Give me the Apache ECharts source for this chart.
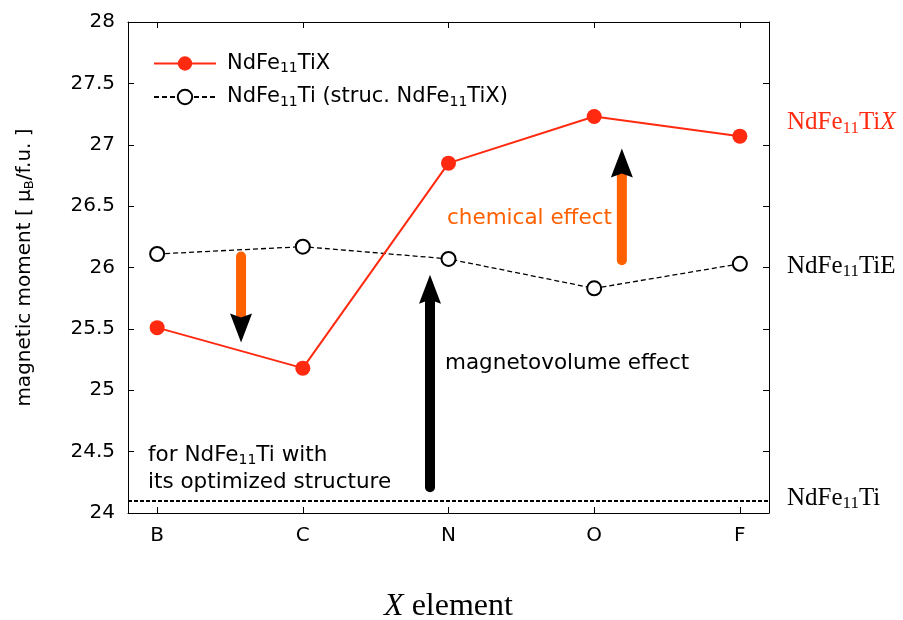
<!DOCTYPE html>
<html><head><meta charset="utf-8">
<script src="https://cdn.jsdelivr.net/npm/echarts@6/dist/echarts.min.js"></script>
<style>html,body{margin:0;padding:0;background:#fff}#c{width:903px;height:620px}</style>
</head><body><div id="c"></div>
<script>
const categories = ['B','C','N','O','F'];
const catPos = [0,1,2,3,4];
const tiX = [25.51, 25.18, 26.85, 27.23, 27.07];
const tiStruc = [26.11, 26.17, 26.07, 25.83, 26.03];
const optimizedLevel = 24.1;
// arrows: [x, yStart, yTip, shaftColor]
const arrows = [
  [0.576, 26.09, 25.39, '#ff6000'],
  [3.19, 26.06, 26.97, '#ff6000'],
  [1.873, 24.21, 25.94, '#000000']
];
const rightLabels = [
  {y: 27.20, text: 'NdFe{sub|11}Ti{it|X}', color: '#ff2a10'},
  {y: 26.03, text: 'NdFe{sub|11}TiE', color: '#000'},
  {y: 24.14, text: 'NdFe{sub|11}Ti', color: '#000'}
];

const chart = echarts.init(document.getElementById('c'), null, {renderer: 'canvas'});
const sans = 'DejaVu Sans';
const serif = 'Liberation Serif';
const grid = {left: 128, top: 22, width: 641, height: 491, outerBoundsMode: 'none', containLabel: false};

function arrowItem(params, api) {
  const x = api.value(0), y0 = api.value(1), y1 = api.value(2);
  const col = arrows[params.dataIndex][3];
  const p0 = api.coord([x, y0]);
  const p1 = api.coord([x, y1]);
  const dir = p1[1] < p0[1] ? -1 : 1;
  const headLen = 29, halfW = 11, notch = 4;
  const baseY = p1[1] - dir * headLen;
  return {
    type: 'group',
    children: [
      {type: 'line', shape: {x1: p0[0], y1: p0[1], x2: p0[0], y2: baseY + dir * notch},
       style: {stroke: col, lineWidth: 10, lineCap: 'round'}},
      {type: 'polygon', shape: {points: [
        [p1[0], p1[1]], [p1[0] + halfW, baseY], [p1[0], baseY + dir * notch], [p1[0] - halfW, baseY]
      ]}, style: {fill: '#000'}}
    ]
  };
}

const option = {
  animation: false,
  backgroundColor: '#fff',
  grid: grid,
  legend: {
    left: 153, top: 53, padding: 0, orient: 'vertical', itemWidth: 62, itemHeight: 18, itemGap: 11,
    data: ['a', 'b'],
    formatter: function(n){
      return n === 'a' ? 'NdFe{s|11}TiX' : 'NdFe{s|11}Ti (struc. NdFe{s|11}TiX)';
    },
    textStyle: {fontFamily: sans, fontSize: 21, color: '#000', padding: [0,0,0,6],
      rich: {s: {fontFamily: sans, fontSize: 14, padding: [10,0,0,0], color: '#000'}}}
  },
  xAxis: [{
    type: 'value', min: -0.2, max: 4.2, position: 'bottom',
    axisLine: {show: true, onZero: false, lineStyle: {color: '#000', width: 1}},
    axisTick: {show: true, inside: true, length: 6, customValues: catPos, lineStyle: {color: '#000'}},
    axisLabel: {customValues: catPos, formatter: v => categories[Math.round(v)], fontFamily: sans, fontSize: 20, color: '#000', margin: 13},
    splitLine: {show: false},
    name: '{it|X} element', nameLocation: 'middle', nameGap: 78,
    nameTextStyle: {fontFamily: serif, fontSize: 32, color: '#000',
      rich: {it: {fontFamily: serif, fontStyle: 'italic', fontSize: 32, color: '#000'}}}
  }, {
    type: 'value', min: -0.2, max: 4.2, position: 'top',
    axisLine: {show: true, onZero: false, lineStyle: {color: '#000', width: 1}},
    axisTick: {show: true, inside: true, length: 6, customValues: catPos, lineStyle: {color: '#000'}},
    axisLabel: {show: false}, splitLine: {show: false}
  }],
  yAxis: [{
    type: 'value', min: 24, max: 28, interval: 0.5, position: 'left',
    axisLine: {show: true, onZero: false, lineStyle: {color: '#000', width: 1}},
    axisTick: {show: true, inside: true, length: 6, lineStyle: {color: '#000'}},
    axisLabel: {fontFamily: sans, fontSize: 20, color: '#000', margin: 13,
      formatter: v => String(+v.toFixed(1))},
    splitLine: {show: false},
    name: 'magnetic moment [ μ{s|B}/f.u. ]', nameLocation: 'middle', nameGap: 92, nameRotate: 90,
    nameTextStyle: {fontFamily: sans, fontSize: 20, color: '#000',
      rich: {s: {fontFamily: sans, fontSize: 13, padding: [9,0,0,0], color: '#000'}}}
  }, {
    type: 'value', min: 24, max: 28, interval: 0.5, position: 'right',
    axisLine: {show: true, onZero: false, lineStyle: {color: '#000', width: 1}},
    axisTick: {show: true, inside: true, length: 6, lineStyle: {color: '#000'}},
    axisLabel: {show: false}, splitLine: {show: false}
  }],
  series: [
    {
      name: 'a', type: 'line', xAxisIndex: 0, yAxisIndex: 0,
      data: catPos.map((x,i) => [x, tiX[i]]),
      symbol: 'circle', symbolSize: 15,
      lineStyle: {color: '#ff2a10', width: 2},
      itemStyle: {color: '#ff2a10'},
      z: 5
    },
    {
      name: 'b', type: 'line', xAxisIndex: 0, yAxisIndex: 0,
      data: catPos.map((x,i) => [x, tiStruc[i]]),
      symbol: 'emptyCircle', symbolSize: 14,
      lineStyle: {color: '#000', width: 1.3, type: [5,3]},
      itemStyle: {color: '#000', borderColor: '#000', borderWidth: 1.5},
      markLine: {
        silent: true, symbol: 'none', label: {show: false},
        lineStyle: {color: '#000', width: 1.8, type: [4,2]},
        data: [{yAxis: optimizedLevel}]
      },
      z: 4
    },
    {
      type: 'custom', xAxisIndex: 0, yAxisIndex: 0,
      renderItem: arrowItem,
      data: arrows.map(a => [a[0], a[1], a[2]]),
      z: 6, silent: true
    }
  ],
  graphic: [
    {type: 'text', left: 447, top: 207, style: {text: 'chemical effect', font: '21.5px "DejaVu Sans"', fill: '#ff6000'}},
    {type: 'text', left: 445, top: 352, style: {text: 'magnetovolume effect', font: '21.5px "DejaVu Sans"', fill: '#000'}},
    {type: 'text', left: 148, top: 444, style: {
      text: 'for NdFe{s|11}Ti with',
      font: '21.5px "DejaVu Sans"', fill: '#000',
      rich: {s: {fontFamily: sans, fontSize: 14, padding: [10,0,0,0], fill: '#000'}}
    }},
    {type: 'text', left: 148, top: 471, style: {text: 'its optimized structure', font: '21.5px "DejaVu Sans"', fill: '#000'}}
  ].concat(rightLabels.map(r => ({
    type: 'text', left: 787, top: 0,
    style: {
      text: r.text, fontFamily: serif, fontSize: 25, fill: r.color,
      rich: {
        sub: {fontFamily: serif, fontSize: 17, padding: [11,0,0,0], fill: r.color},
        it: {fontFamily: serif, fontStyle: 'italic', fontSize: 25, fill: r.color}
      }
    },
    _y: r.y
  })))
};
chart.setOption(option);
// position right-side labels at their data values via the y scale
const g = option.graphic.map(gr => {
  if (gr._y !== undefined) {
    const py = chart.convertToPixel({yAxisIndex: 0}, gr._y);
    return Object.assign({}, gr, {top: py - 10});
  }
  return gr;
});
chart.setOption({graphic: g});
</script>
</body></html>
